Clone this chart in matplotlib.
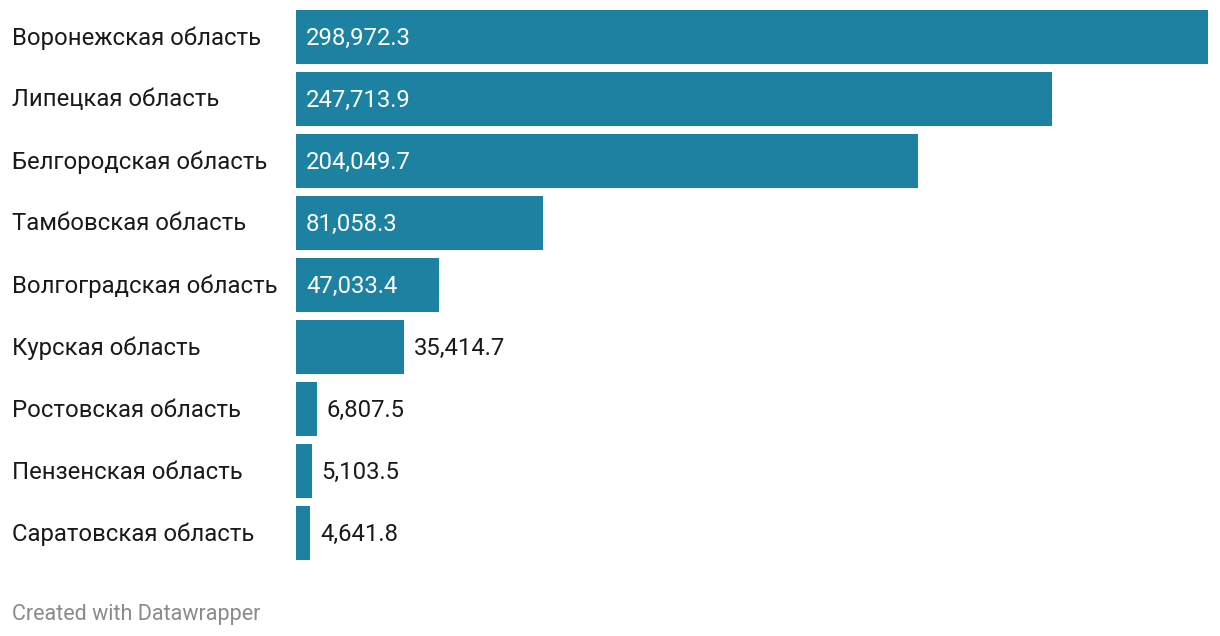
import matplotlib
matplotlib.use("Agg")
import matplotlib.pyplot as plt

regions = ["Воронежская область", "Липецкая область", "Белгородская область",
           "Тамбовская область", "Волгоградская область", "Курская область",
           "Ростовская область", "Пензенская область", "Саратовская область"]
values = [298972.3, 247713.9, 204049.7, 81058.3, 47033.4, 35414.7, 6807.5, 5103.5, 4641.8]
footer = "Created with Datawrapper"

W, H, DPI = 1220, 636, 100
plt.rcParams['font.family'] = ['Roboto', 'DejaVu Sans']
fig = plt.figure(figsize=(W / DPI, H / DPI), dpi=DPI)
ax = fig.add_axes([296 / W, 1 - 560 / H, (1208 - 296) / W, (560 - 10) / H])

bar_h = 0.87
color = "#1d81a2"
ypos = list(range(len(regions)))
ax.barh(ypos, values, height=bar_h, color=color)
ax.set_xlim(0, max(values))
ax.set_ylim(len(regions) - 1 + bar_h / 2, -bar_h / 2)
ax.axis("off")

fs = 17.2
dy_px = 1.5  # raise text slightly
dy_pt = dy_px * 72 / DPI
fig.canvas.draw()
renderer = fig.canvas.get_renderer()
for i, (r, v) in enumerate(zip(regions, values)):
    y_fig = ax.transData.transform((0, i))[1] + dy_px
    fig.text(12 / W, y_fig / H, r, ha="left", va="center_baseline", fontsize=fs, color="#1a1a1a")
    bar_px = ax.transData.transform((v, 0))[0] - ax.transData.transform((0, 0))[0]
    lab = f"{v:,.1f}"
    t = ax.annotate(lab, xy=(0, i), xytext=(7.2, dy_pt), textcoords="offset points",
                    ha="left", va="center_baseline", fontsize=fs, color="white")
    w = t.get_window_extent(renderer).width
    if w + 20 > bar_px:
        t.remove()
        ax.annotate(lab, xy=(v, i), xytext=(7.2, dy_pt), textcoords="offset points",
                    ha="left", va="center_baseline", fontsize=fs, color="#1a1a1a")

fig.text(12 / W, 1 - 612 / H, footer, ha="left", va="center_baseline", fontsize=15.5, color="#8a8a8a")

fig.savefig("out.png", dpi=DPI)
